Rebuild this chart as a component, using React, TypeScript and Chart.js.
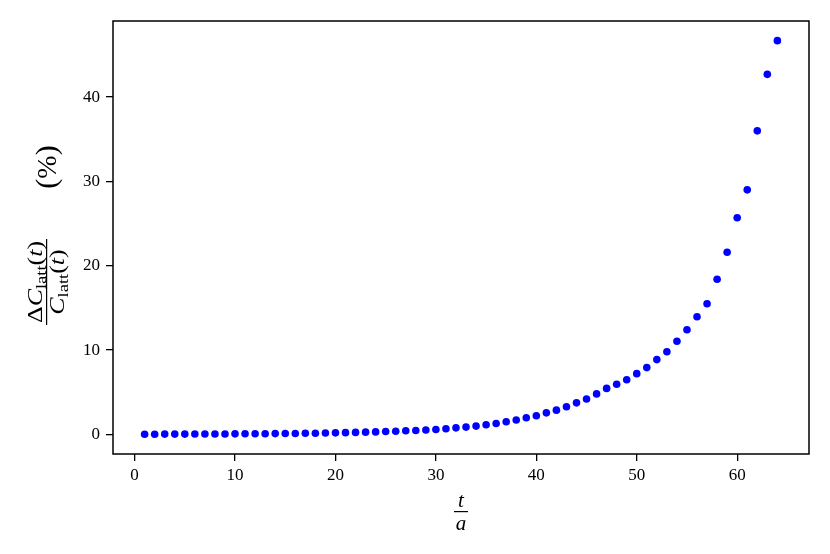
import React, { useEffect, useRef } from 'react';
import { Chart, registerables } from 'chart.js';

Chart.register(...registerables);

const tValues = [
  1, 2, 3, 4, 5, 6, 7, 8, 9, 10, 11, 12, 13, 14, 15, 16, 17, 18, 19, 20, 21, 22, 23, 24, 25, 26, 27, 28, 29, 30, 31, 32,
  33, 34, 35, 36, 37, 38, 39, 40, 41, 42, 43, 44, 45, 46, 47, 48, 49, 50, 51, 52, 53, 54, 55, 56, 57, 58, 59, 60, 61, 62, 63, 64,
];
const deltaPercent = [
  0.02, 0.02, 0.03, 0.03, 0.03, 0.04, 0.04, 0.05, 0.05, 0.06, 0.07, 0.07, 0.08, 0.09, 0.1, 0.11,
  0.13, 0.14, 0.16, 0.18, 0.2, 0.23, 0.26, 0.29, 0.33, 0.37, 0.42, 0.46, 0.51, 0.58, 0.66, 0.77,
  0.86, 0.98, 1.14, 1.29, 1.49, 1.7, 1.97, 2.21, 2.55, 2.87, 3.27, 3.74, 4.2, 4.8, 5.45, 5.95,
  6.47, 7.2, 7.92, 8.87, 9.8, 11.05, 12.4, 13.95, 15.5, 18.4, 21.6, 25.7, 29.0, 36.0, 42.7, 46.7,
];
const xTickValues = [0, 10, 20, 30, 40, 50, 60];
const yTickValues = [0, 10, 20, 30, 40];

const FONT = '"Liberation Serif", "DejaVu Serif", serif';

type Seg = { text: string; font: string; dy?: number };

function measureSegs(ctx: CanvasRenderingContext2D, segs: Seg[]) {
  let total = 0;
  segs.forEach((s) => {
    ctx.font = s.font;
    total += ctx.measureText(s.text).width;
  });
  return total;
}

function drawSegs(ctx: CanvasRenderingContext2D, segs: Seg[], cx: number, baseline: number) {
  const total = measureSegs(ctx, segs);
  let x = cx - total / 2;
  ctx.textAlign = 'left';
  ctx.textBaseline = 'alphabetic';
  segs.forEach((s) => {
    ctx.font = s.font;
    ctx.fillText(s.text, x, baseline + (s.dy || 0));
    x += ctx.measureText(s.text).width;
  });
  return total;
}

const labelsPlugin = {
  id: 'labelsPlugin',
  afterDraw(chart: any) {
    const ctx: CanvasRenderingContext2D = chart.ctx;
    const a = chart.chartArea;
    ctx.save();
    // frame
    ctx.strokeStyle = '#000';
    ctx.lineWidth = 1.5;
    ctx.strokeRect(a.left, a.top, a.right - a.left, a.bottom - a.top);

    ctx.fillStyle = '#000';
    const it = `italic 21px ${FONT}`;
    const rm = `21px ${FONT}`;
    const sub = `15px ${FONT}`;

    // x label: t / a
    const cx = (a.left + a.right) / 2;
    drawSegs(ctx, [{ text: 't', font: it }], cx, 507);
    ctx.fillRect(cx - 7, 511, 14, 1.2);
    drawSegs(ctx, [{ text: 'a', font: it }], cx, 530);

    // y label: fraction and (%)
    ctx.save();
    ctx.translate(47, 282);
    ctx.rotate(-Math.PI / 2);
    const num: Seg[] = [
      { text: 'Δ', font: rm },
      { text: 'C', font: it },
      { text: 'latt', font: sub, dy: 4 },
      { text: '(', font: rm },
      { text: 't', font: it },
      { text: ')', font: rm },
    ];
    const den: Seg[] = [
      { text: 'C', font: it },
      { text: 'latt', font: sub, dy: 4 },
      { text: '(', font: rm },
      { text: 't', font: it },
      { text: ')', font: rm },
    ];
    const wn = measureSegs(ctx, num);
    const k = 82 / wn;
    ctx.save();
    ctx.scale(k, 1);
    drawSegs(ctx, num, 0, -5);
    drawSegs(ctx, den, 0, 17);
    ctx.restore();
    ctx.fillRect(-43, -1, 86, 1.2);
    ctx.restore();

    ctx.save();
    ctx.translate(47, 167);
    ctx.rotate(-Math.PI / 2);
    drawSegs(
      ctx,
      [
        { text: '(', font: `30px ${FONT}` },
        { text: '%', font: `28px ${FONT}` },
        { text: ')', font: `30px ${FONT}` },
      ],
      0,
      9
    );
    ctx.restore();

    ctx.restore();
  },
};

export default function App() {
  const ref = useRef<HTMLCanvasElement>(null);
  useEffect(() => {
    if (!ref.current) return;
    const chart = new Chart(ref.current, {
      type: 'scatter',
      data: {
        datasets: [
          {
            data: tValues.map((t, i) => ({ x: t, y: deltaPercent[i] })),
            backgroundColor: '#0000ff',
            borderWidth: 0,
            pointRadius: 3.8,
            pointHoverRadius: 3.8,
          },
        ],
      },
      options: {
        animation: false,
        responsive: false,
        devicePixelRatio: 1,
        layout: { padding: { top: 21, right: 21, left: 0, bottom: 0 } },
        plugins: { legend: { display: false }, tooltip: { enabled: false } },
        scales: {
          x: {
            type: 'linear',
            min: -2.15,
            max: 67.15,
            afterBuildTicks: (s: any) => {
              s.ticks = xTickValues.map((v) => ({ value: v }));
            },
            afterFit: (s: any) => {
              s.height = 100;
            },
            grid: { drawOnChartArea: false, drawTicks: true, tickLength: 7, color: '#000', lineWidth: 1.3 },
            border: { display: false },
            ticks: { color: '#000', font: { family: FONT, size: 17 }, padding: 4, maxRotation: 0 },
          },
          y: {
            type: 'linear',
            min: -2.33,
            max: 49.03,
            afterBuildTicks: (s: any) => {
              s.ticks = yTickValues.map((v) => ({ value: v }));
            },
            afterFit: (s: any) => {
              s.width = 113;
            },
            grid: { drawOnChartArea: false, drawTicks: true, tickLength: 7, color: '#000', lineWidth: 1.3 },
            border: { display: false },
            ticks: { color: '#000', font: { family: FONT, size: 17 }, padding: 6 },
          },
        },
      },
      plugins: [labelsPlugin],
    });
    return () => chart.destroy();
  }, []);
  return (
    <div style={{ position: 'absolute', left: 0, top: 0, width: 830, height: 554, background: '#fff' }}>
      <canvas ref={ref} width={830} height={554} />
    </div>
  );
}
